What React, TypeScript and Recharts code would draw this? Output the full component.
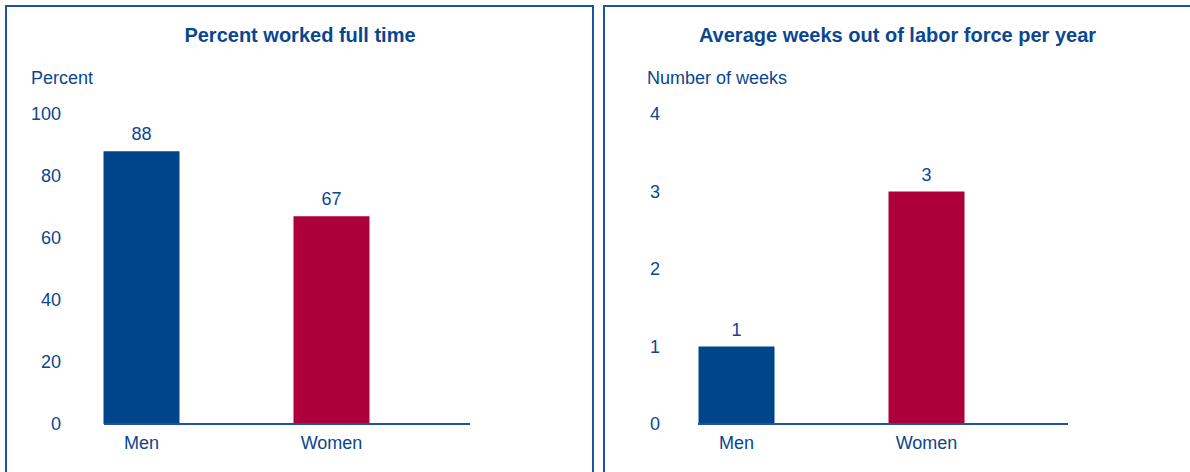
import React from 'react';
import { BarChart, Bar, XAxis, YAxis, Cell, LabelList } from 'recharts';

const categories = ['Men', 'Women'];
const fullTimePct = [88, 67];
const weeksOut = [1, 3];
const pctTicks = [0, 20, 40, 60, 80, 100];
const weekTicks = [0, 1, 2, 3, 4];
const barColors = ['#00458c', '#ad003a'];

const TEXT = '#0b4690';
const LINE = '#1d53a0';
const FONT = '"Liberation Sans", Arial, Helvetica, sans-serif';

const fullTimeData = categories.map((name, i) => ({ name, value: fullTimePct[i] }));
const weeksData = categories.map((name, i) => ({ name, value: weeksOut[i] }));

interface PanelProps {
  left: number;
  width: number;
  title: string;
  titleCenter: number;
  unit: string;
  unitLeft: number;
  data: { name: string; value: number }[];
  ticks: number[];
  tickMargin: number;
  pad: { left: number; right: number };
  rightMargin: number;
}

function Panel(p: PanelProps) {
  const tick = { fill: TEXT, fontSize: 18, fontFamily: FONT };
  return (
    <>
      <div
        style={{
          position: 'absolute',
          left: p.titleCenter - 300,
          width: 600,
          top: 25,
          textAlign: 'center',
          fontSize: 20,
          lineHeight: '20px',
          fontWeight: 'bold',
          color: TEXT,
          fontFamily: FONT,
        }}
      >
        {p.title}
      </div>
      <div
        style={{
          position: 'absolute',
          left: p.unitLeft,
          top: 69,
          fontSize: 18,
          lineHeight: '18px',
          color: TEXT,
          fontFamily: FONT,
          whiteSpace: 'nowrap',
        }}
      >
        {p.unit}
      </div>
      <div style={{ position: 'absolute', left: p.left, top: 0 }}>
        <BarChart
          width={p.width}
          height={472}
          data={p.data}
          margin={{ top: 114, right: p.rightMargin, bottom: 0, left: 0 }}
        >
          <YAxis
            width={104}
            domain={[0, p.ticks[p.ticks.length - 1]]}
            ticks={p.ticks}
            axisLine={false}
            tickLine={false}
            tickSize={0}
            tickMargin={p.tickMargin}
            tick={tick}
          />
          <XAxis
            dataKey="name"
            height={48}
            padding={p.pad}
            axisLine={{ stroke: LINE, strokeWidth: 2 }}
            tickLine={false}
            tickSize={0}
            tickMargin={12}
            tick={tick}
          />
          <Bar dataKey="value" barSize={76} isAnimationActive={false}>
            {p.data.map((d, i) => (
              <Cell key={d.name} fill={barColors[i]} />
            ))}
            <LabelList dataKey="value" position="top" offset={11} fill={TEXT} fontSize={18} fontFamily={FONT} />
          </Bar>
        </BarChart>
      </div>
    </>
  );
}

export default function App() {
  return (
    <div style={{ position: 'absolute', left: 0, top: 0, width: 1190, height: 472, overflow: 'hidden', background: '#fff' }}>
      <div style={{ position: 'absolute', left: 5, top: 5, width: 589, height: 520, border: `2px solid ${LINE}`, boxSizing: 'border-box' }} />
      <div style={{ position: 'absolute', left: 603, top: 5, width: 700, height: 520, border: `2px solid ${LINE}`, boxSizing: 'border-box' }} />
      <Panel
        left={0}
        width={594}
        title="Percent worked full time"
        titleCenter={300}
        unit="Percent"
        unitLeft={31}
        data={fullTimeData}
        ticks={pctTicks}
        tickMargin={43}
        pad={{ left: -57.5, right: 43.5 }}
        rightMargin={124}
      />
      <Panel
        left={594}
        width={596}
        title="Average weeks out of labor force per year"
        titleCenter={897.5}
        unit="Number of weeks"
        unitLeft={647}
        data={weeksData}
        ticks={weekTicks}
        tickMargin={38}
        pad={{ left: -56.5, right: 46.5 }}
        rightMargin={122}
      />
    </div>
  );
}
